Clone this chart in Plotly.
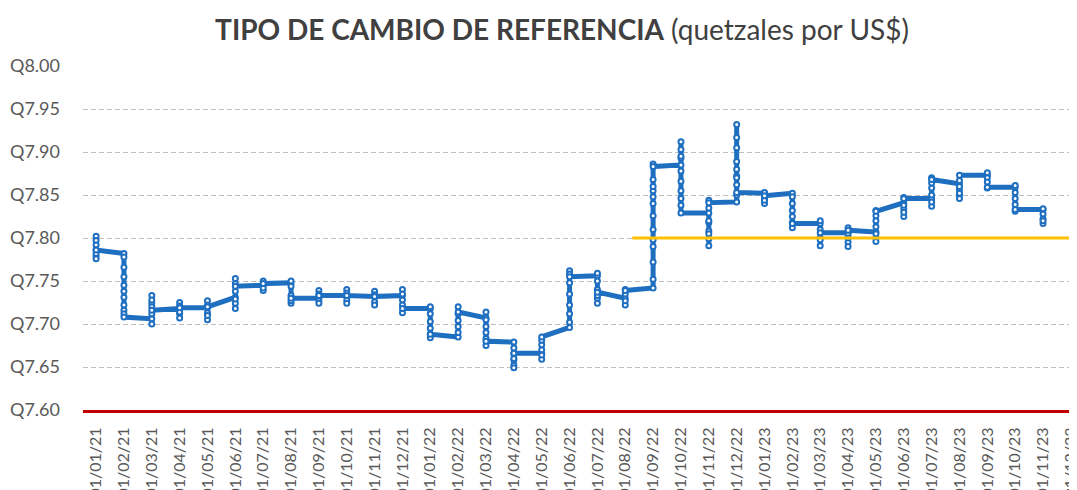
import plotly.graph_objects as go

# Month tick labels (01/MM/YY)
meses = ["01/01/21", "01/02/21", "01/03/21", "01/04/21", "01/05/21", "01/06/21",
         "01/07/21", "01/08/21", "01/09/21", "01/10/21", "01/11/21", "01/12/21",
         "01/01/22", "01/02/22", "01/03/22", "01/04/22", "01/05/22", "01/06/22",
         "01/07/22", "01/08/22", "01/09/22", "01/10/22", "01/11/22", "01/12/22",
         "01/01/23", "01/02/23", "01/03/23", "01/04/23", "01/05/23", "01/06/23",
         "01/07/23", "01/08/23", "01/09/23", "01/10/23", "01/11/23", "01/12/23"]

# Daily reference exchange rate, grouped by month (all days of a month share the month position)
tc_2021 = [
    [7.802, 7.797, 7.792, 7.786, 7.779, 7.776, 7.782, 7.786],
    [7.782, 7.778, 7.766, 7.755, 7.745, 7.738, 7.731, 7.722, 7.716, 7.712, 7.708],
    [7.706, 7.700, 7.712, 7.724, 7.733, 7.728, 7.720, 7.716],
    [7.718, 7.725, 7.721, 7.712, 7.707, 7.714, 7.719],
    [7.719, 7.727, 7.722, 7.713, 7.705, 7.710, 7.720],
    [7.731, 7.724, 7.718, 7.729, 7.738, 7.747, 7.753, 7.744],
    [7.745, 7.739, 7.742, 7.750, 7.747],
    [7.748, 7.750, 7.744, 7.733, 7.724, 7.727, 7.730],
    [7.730, 7.739, 7.735, 7.727, 7.724, 7.733],
    [7.733, 7.740, 7.736, 7.728, 7.724, 7.733],
    [7.732, 7.738, 7.734, 7.726, 7.722, 7.732],
    [7.733, 7.740, 7.735, 7.728, 7.722, 7.713, 7.718],
]
tc_2022 = [
    [7.718, 7.720, 7.712, 7.703, 7.695, 7.688, 7.684, 7.688],
    [7.685, 7.690, 7.697, 7.704, 7.712, 7.720, 7.714],
    [7.707, 7.714, 7.705, 7.697, 7.690, 7.683, 7.675, 7.680],
    [7.679, 7.672, 7.665, 7.658, 7.652, 7.649, 7.660, 7.666],
    [7.666, 7.659, 7.664, 7.670, 7.676, 7.681, 7.685],
    [7.696, 7.702, 7.712, 7.722, 7.735, 7.748, 7.762, 7.758, 7.755],
    [7.756, 7.759, 7.750, 7.740, 7.730, 7.724, 7.733, 7.737],
    [7.730, 7.722, 7.727, 7.735, 7.740, 7.739],
    [7.742, 7.752, 7.772, 7.790, 7.798, 7.810, 7.826, 7.840, 7.848, 7.855, 7.860, 7.868, 7.886, 7.883],
    [7.885, 7.893, 7.903, 7.912, 7.895, 7.878, 7.866, 7.855, 7.846, 7.838, 7.829],
    [7.829, 7.818, 7.808, 7.799, 7.791, 7.805, 7.820, 7.835, 7.844, 7.841],
    [7.842, 7.850, 7.862, 7.872, 7.880, 7.889, 7.905, 7.917, 7.932, 7.870, 7.853],
]
tc_2023 = [
    [7.852, 7.853, 7.846, 7.840, 7.844, 7.849],
    [7.852, 7.848, 7.840, 7.832, 7.825, 7.818, 7.812, 7.817],
    [7.817, 7.820, 7.810, 7.800, 7.791, 7.798, 7.806],
    [7.806, 7.812, 7.804, 7.795, 7.790, 7.800, 7.809],
    [7.807, 7.800, 7.796, 7.805, 7.813, 7.820, 7.826, 7.832, 7.831],
    [7.841, 7.834, 7.825, 7.830, 7.838, 7.847, 7.846],
    [7.846, 7.837, 7.842, 7.850, 7.858, 7.864, 7.870, 7.868],
    [7.863, 7.856, 7.850, 7.846, 7.852, 7.860, 7.867, 7.873],
    [7.873, 7.876, 7.870, 7.865, 7.858, 7.859],
    [7.859, 7.861, 7.853, 7.846, 7.839, 7.831, 7.833],
    [7.833, 7.834, 7.828, 7.822, 7.817, 7.820],
]

# Reference level line (orange) – month position where it starts and ends
ref_x = [19.25, 35.6]
ref_y = [7.80, 7.80]

y_ticks = [7.60, 7.65, 7.70, 7.75, 7.80, 7.85, 7.90, 7.95, 8.00]
y_labels = ["Q7.60", "Q7.65", "Q7.70", "Q7.75", "Q7.80", "Q7.85", "Q7.90", "Q7.95", "Q8.00"]

por_mes = tc_2021 + tc_2022 + tc_2023
xs, ys = [], []
for i, vals in enumerate(por_mes):
    xs += [i] * len(vals)
    ys += vals

blue = "#1F6FC1"
grey = "#595959"
font = "Lato"

# page body has an 8px default margin, so the figure is 8px smaller than the window
W, H = 1069, 482

fig = go.Figure()
fig.add_trace(go.Scatter(
    x=xs, y=ys, mode="lines+markers",
    line=dict(color=blue, width=5),
    marker=dict(symbol="circle", size=5, color="white", line=dict(color=blue, width=2)),
    showlegend=False, hoverinfo="y",
))
fig.add_trace(go.Scatter(
    x=ref_x, y=ref_y, mode="lines",
    line=dict(color="#FFC000", width=3),
    showlegend=False, hoverinfo="skip",
))

fig.update_layout(
    width=W, height=H,
    margin=dict(l=75, r=0, t=58, b=80, autoexpand=False),
    paper_bgcolor="white", plot_bgcolor="white",
    font=dict(family=font, color=grey),
    title=dict(
        text="<b>TIPO DE CAMBIO DE REFERENCIA</b> (quetzales por US$)",
        x=554 / W, xanchor="center", xref="container",
        y=1 - 22 / H, yanchor="middle", yref="container",
        font=dict(family=font, size=28, color="#404040"),
    ),
)
fig.update_xaxes(
    range=[-0.47, 35.22], automargin=False,
    tickmode="array", tickvals=list(range(len(meses))), ticktext=meses,
    tickangle=-90, tickfont=dict(size=16, color=grey, family=font),
    ticklabeloverflow="allow",
    showgrid=False, zeroline=False,
    showline=True, linecolor="#C00000", linewidth=3,
    ticks="", ticklabelstandoff=8,
)
fig.update_yaxes(
    range=[7.60, 8.00], automargin=False,
    tickmode="array", tickvals=y_ticks, ticktext=y_labels,
    tickfont=dict(size=18, color=grey, family=font),
    showgrid=True, gridcolor="#BFBFBF", gridwidth=1, griddash="5px,3px",
    zeroline=False, showline=False, ticks="", ticklabelstandoff=22,
)

fig.write_html("out.html")
